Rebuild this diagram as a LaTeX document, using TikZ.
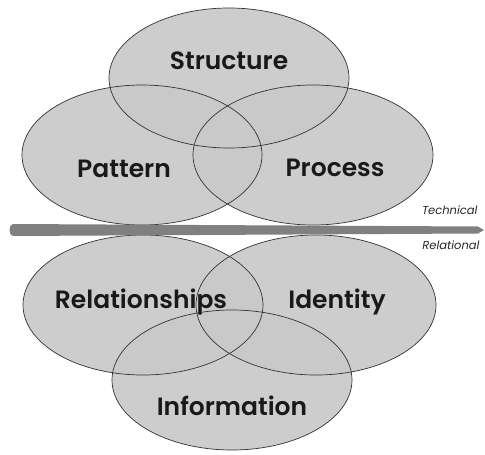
\documentclass[tikz,border=0pt]{standalone}
\usepackage{fontspec}
\setmainfont{Poppins}[BoldFont={Poppins SemiBold}]
\usetikzlibrary{shapes.geometric}

\tikzset{
  blob/.style={ellipse,fill=black!21,fill opacity=0.92,minimum width=240pt,minimum height=140pt,inner sep=0pt},
  rim/.style={draw=black!80,line width=0.7pt},
  tag/.style={font=\fontsize{25}{29}\selectfont\bfseries,text=black!90},
  side/.style={font=\fontsize{11.5}{13}\selectfont\itshape,text=black!85},
  band/.style={fill=black!50}
}

\begin{document}
\begin{tikzpicture}[x=1pt,y=-1pt]
    \useasboundingbox (0,0) rectangle (485,455);

    % the six areas
    \foreach \nm/\cx/\cy in {structure/229/78,pattern/142/155,process/313/155,
        relationships/143/305,identity/316/305,information/232/380}
        \node[blob] (\nm) at (\cx,\cy) {};
    \foreach \nm in {structure,pattern,process,relationships,identity,information}
        \draw[rim] (\nm.center) ellipse [x radius=120pt,y radius=70pt];

    \node[tag] (structuretxt) at (229,61) {Structure};
    \node[tag] (patterntxt) at (124,169) {Pattern};
    \node[tag] (processtxt) at (335,168) {Process};
    \node[tag] (relationshipstxt) at (141,302) {Relationships};
    \node[tag] (identitytxt) at (337,302) {Identity};
    \node[tag] (informationtxt) at (232,406) {Information};

    % divider between the two halves
    \coordinate (west) at (13,230);
    \coordinate (east) at (484,230);
    \fill[band] ([yshift=-6]west) -- ([xshift=-6,yshift=-3.5]east) -- (east)
        -- ([xshift=-6,yshift=3.5]east) -- ([yshift=6]west)
        to[out=180,in=180] cycle;

    \node[side,anchor=east] (technical) at (481,210) {Technical};
    \node[side,anchor=east] (relational) at (483,245) {Relational};
\end{tikzpicture}
\end{document}
